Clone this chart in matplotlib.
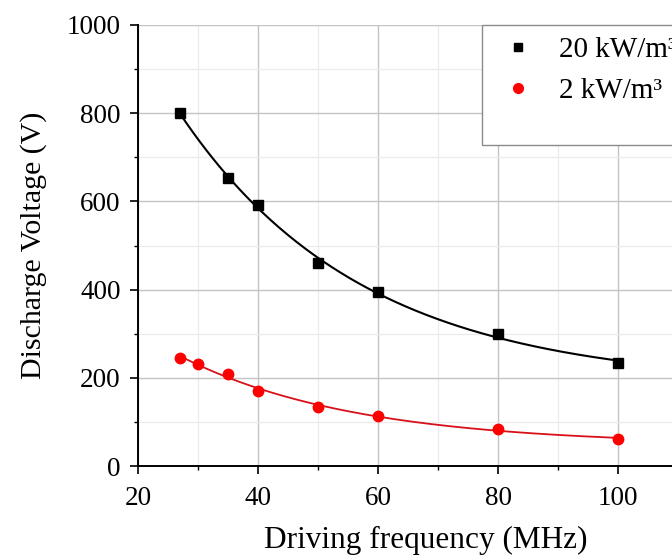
import numpy as np
import matplotlib
matplotlib.use("Agg")
import matplotlib.pyplot as plt
from matplotlib.patches import Rectangle
from matplotlib.lines import Line2D

plt.rcParams["font.family"] = ["Liberation Serif", "DejaVu Serif"]

# Data
freq_high = [27, 35, 40, 50, 60, 80, 100]
volt_high = [800, 653, 592, 460, 395, 300, 233]

freq_low = [27, 30, 35, 40, 50, 60, 80, 100]
volt_low = [246, 231, 209, 171, 134, 114, 83, 62]

label_high = "20 kW/m³"
label_low = "2 kW/m³"

W, H = 672, 555
fig = plt.figure(figsize=(W / 100, H / 100), dpi=100)

# axes: x 20..120 runs past the right edge (reference is cropped there)
left, bottom, top = 138, 466, 25
ax = fig.add_axes([left / W, (H - bottom) / H, 600 / W, (bottom - top) / H])
ax.set_xlim(20, 120)
ax.set_ylim(0, 1000)
ax.set_xticks(np.arange(20, 101, 20))
ax.set_xticks(np.arange(20, 121, 10), minor=True)
ax.set_yticks(np.arange(0, 1001, 200))
ax.set_yticks(np.arange(0, 1001, 100), minor=True)

ax.grid(True, which="major", color="#c4c4c4", linewidth=1.0, zorder=0)
ax.grid(True, which="minor", color="#ebebeb", linewidth=0.9, zorder=0)
ax.set_axisbelow(True)

for side in ("top", "right"):
    ax.spines[side].set_visible(False)
for side in ("left", "bottom"):
    ax.spines[side].set_linewidth(1.4)

ax.tick_params(which="major", direction="out", length=5.5, width=1.2,
               labelsize=19.5)
ax.tick_params(axis="x", which="major", pad=9)
ax.tick_params(axis="y", which="major", pad=7)
ax.tick_params(which="minor", direction="out", length=3, width=1.0)


def decay_fit(x, y):
    # y = y0 + A*exp(-x/t): scan t, solve y0 and A by least squares
    x = np.asarray(x, float)
    y = np.asarray(y, float)
    best = None
    for t in np.linspace(5, 200, 800):
        M = np.column_stack([np.ones_like(x), np.exp(-x / t)])
        coef, _, _, _ = np.linalg.lstsq(M, y, rcond=None)
        err = np.sum((M @ coef - y) ** 2)
        if best is None or err < best[0]:
            best = (err, t, coef)
    _, t, (y0, A) = best
    xs = np.linspace(x.min(), x.max(), 200)
    return xs, y0 + A * np.exp(-xs / t)


xs, ys = decay_fit(freq_high, volt_high)
ax.plot(xs, ys, color="black", linewidth=1.5, zorder=2)
xs, ys = decay_fit(freq_low, volt_low)
ax.plot(xs, ys, color="#d8101a", linewidth=1.3, zorder=2)

ax.plot(freq_high, volt_high, "s", color="black", markersize=6.5, zorder=3)
ax.plot(freq_low, volt_low, "o", color="#ff0000", markersize=7.5, zorder=3)

ax.set_xlabel("Driving frequency (MHz)", fontsize=22.5)
ax.xaxis.set_label_coords((426 - left) / 600, -(548 - bottom) / (bottom - top))
ax.xaxis.label.set_va("baseline")
ax.set_ylabel("Discharge Voltage (V)", fontsize=21.5, labelpad=14)

# legend frame (cut off at the right edge like the reference)
fig.patches.append(Rectangle((482 / W, (H - 145) / H), 300 / W, 120 / H,
                             transform=fig.transFigure, facecolor="white",
                             edgecolor="#8a8a8a", linewidth=1.0, zorder=5))
handles = [
    Line2D([], [], marker="s", linestyle="none", color="black", markersize=5.5),
    Line2D([], [], marker="o", linestyle="none", color="#ff0000", markersize=7),
]
leg = fig.legend(handles, [label_high, label_low], loc="upper left",
                 bbox_to_anchor=(504 / W, (H - 37) / H),
                 bbox_transform=fig.transFigure, frameon=False,
                 fontsize=21, borderpad=0, borderaxespad=0, handlelength=0.95,
                 handletextpad=0.92, labelspacing=0.5)
leg.set_zorder(6)

fig.savefig("out.png", dpi=100)
